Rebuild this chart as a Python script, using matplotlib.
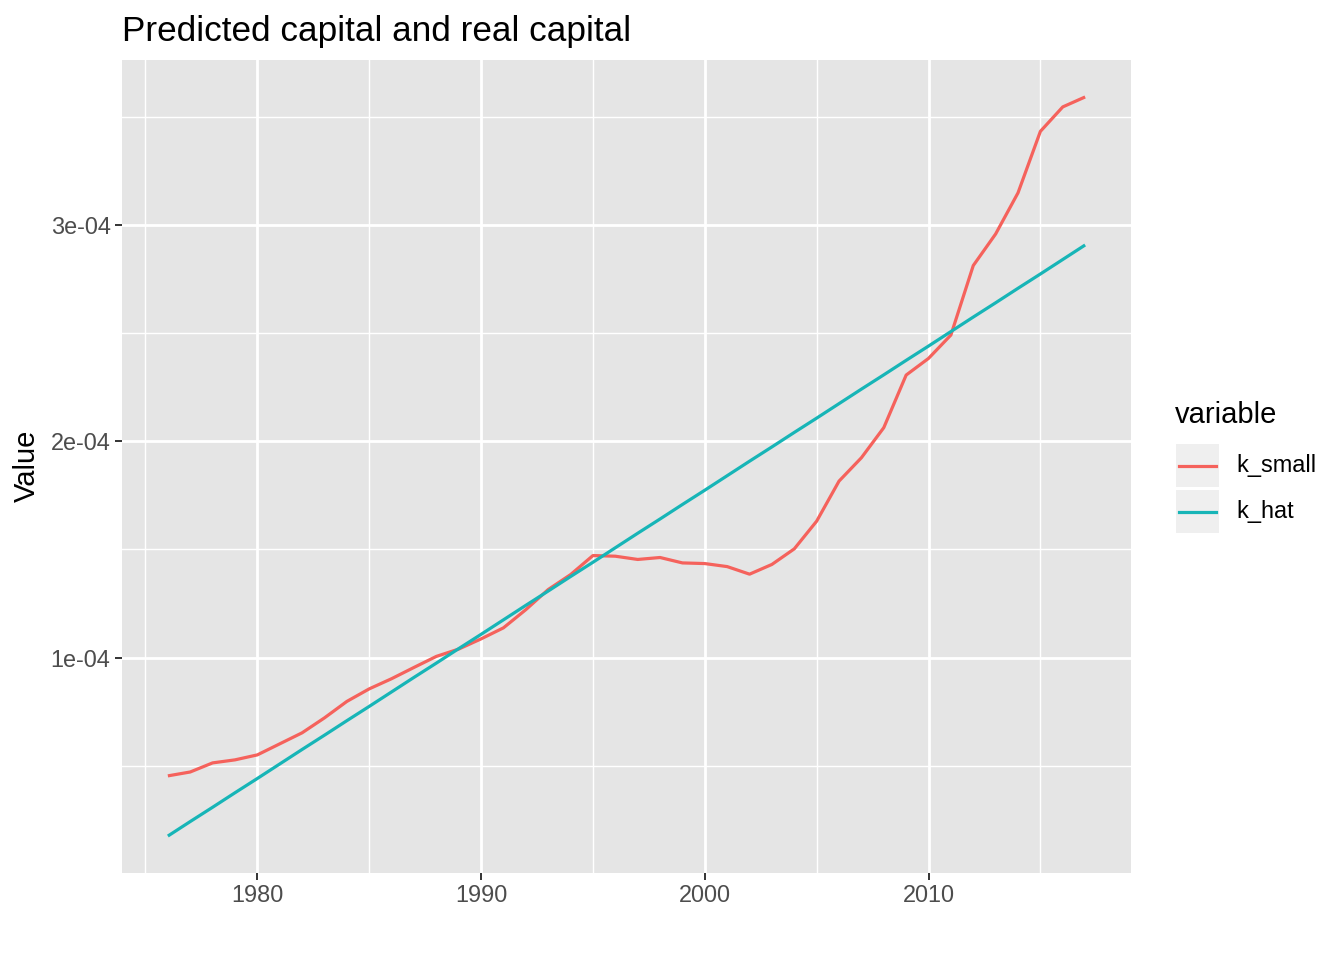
import matplotlib
matplotlib.use("Agg")
import matplotlib.pyplot as plt
from matplotlib.patches import Rectangle
from matplotlib.lines import Line2D
import numpy as np

plt.rcParams['font.family'] = ['Liberation Sans', 'DejaVu Sans']

years = list(range(1976, 2018))
k_small = [0.454, 0.472, 0.514, 0.528, 0.551, 0.602, 0.653, 0.722, 0.798, 0.856,
           0.903, 0.955, 1.006, 1.040, 1.087, 1.138, 1.222, 1.315, 1.384, 1.472,
           1.469, 1.454, 1.463, 1.438, 1.435, 1.421, 1.386, 1.431, 1.503, 1.631,
           1.816, 1.924, 2.063, 2.306, 2.383, 2.491, 2.812, 2.958, 3.148, 3.432,
           3.545, 3.591]
k_hat = [0.176, 0.243, 0.309, 0.376, 0.442, 0.509, 0.576, 0.642, 0.709, 0.775,
         0.842, 0.909, 0.975, 1.042, 1.108, 1.175, 1.242, 1.308, 1.375, 1.441,
         1.508, 1.575, 1.641, 1.708, 1.774, 1.841, 1.908, 1.974, 2.041, 2.107,
         2.174, 2.241, 2.307, 2.374, 2.440, 2.507, 2.574, 2.640, 2.707, 2.773,
         2.840, 2.907]
k_small = [v * 1e-4 for v in k_small]
k_hat = [v * 1e-4 for v in k_hat]

series_names = ["k_small", "k_hat"]
colors = ["#F5625C", "#17B5B7"]
x_ticks = [1980, 1990, 2000, 2010]
y_ticks = [1e-4, 2e-4, 3e-4]
y_tick_labels = ["1e-04", "2e-04", "3e-04"]

W, H = 1344, 960
fig = plt.figure(figsize=(W / 100, H / 100), dpi=100)
ax = fig.add_axes([122 / W, 1 - 873 / H, (1131 - 122) / W, (873 - 60) / H])
ax.patch.set_facecolor("#E5E5E5")

for s in ax.spines.values():
    s.set_visible(False)

# limits with ggplot 5% expansion
xmin, xmax = min(years), max(years)
xr = xmax - xmin
ax.set_xlim(xmin - 0.05 * xr, xmax + 0.05 * xr)
allv = k_small + k_hat
ymin, ymax = min(allv), max(allv)
yr = ymax - ymin
ax.set_ylim(ymin - 0.05 * yr, ymax + 0.05 * yr)

ax.set_xticks(x_ticks)
ax.set_xticklabels([str(t) for t in x_ticks])
ax.set_yticks(y_ticks)
ax.set_yticklabels(y_tick_labels)
ax.set_xticks([1975, 1985, 1995, 2005, 2015], minor=True)
ax.set_yticks([0.5e-4, 1.5e-4, 2.5e-4, 3.5e-4], minor=True)

ax.grid(which="major", color="white", linewidth=2.0)
ax.grid(which="minor", color="white", linewidth=1.0)
ax.set_axisbelow(True)
ax.tick_params(which="major", length=5.2, width=1.4, color="#333333",
               labelsize=16.9, labelcolor="#4D4D4D", pad=3)
ax.tick_params(which="minor", length=0)

ax.plot(years, k_small, color=colors[0], linewidth=2.3, solid_capstyle="butt")
ax.plot(years, k_hat, color=colors[1], linewidth=2.3, solid_capstyle="butt")

ax.set_ylabel("")
fig.text(27 / W, 1 - 466 / H, "Value", fontsize=21, rotation=90,
         ha="center", va="center", color="black")
fig.text(122 / W, 1 - 41 / H, "Predicted capital and real capital",
         fontsize=25.3, ha="left", va="baseline", color="black")

# legend (ggplot style)
fig.text(1175 / W, 1 - 415 / H, "variable", fontsize=21, ha="left", va="center")
key_tops = [444, 490]
for i, (name, c) in enumerate(zip(series_names, colors)):
    top = key_tops[i]
    fig.patches.append(Rectangle((1176 / W, 1 - (top + 43) / H), 43 / W, 43 / H,
                                 transform=fig.transFigure, facecolor="#EFEFEF",
                                 edgecolor="none"))
    yc = 1 - (top + 21.5) / H
    fig.lines.append(Line2D([1179 / W, 1216 / W], [yc, yc], transform=fig.transFigure,
                            color=c, linewidth=2.3))
    fig.text(1236 / W, yc, name, fontsize=16.9, ha="left", va="center")

fig.savefig("out.png", dpi=100)
